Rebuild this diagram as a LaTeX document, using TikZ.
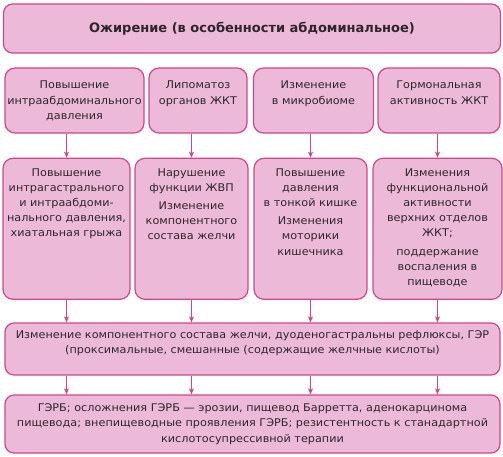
\documentclass[tikz,border=0pt]{standalone}
\usepackage{fontspec}
\setmainfont{DejaVu Sans}
\newfontfamily\bodyfont{DejaVu Sans}[FakeStretch=1.06]
\usetikzlibrary{positioning}
\usetikzlibrary{arrows.meta}
\definecolor{edge}{RGB}{208,70,136}
\definecolor{boxfill}{RGB}{236,186,216}
\definecolor{ink}{RGB}{45,38,45}

\begin{document}
\begin{tikzpicture}[x=1pt, y=-1pt,
		box/.style = {rectangle, rounded corners=10pt, draw=edge, fill=boxfill, line width=1.2pt, inner sep=0},
		txt/.style = {align=center, inner sep=0, text=ink, font=\bodyfont\fontsize{10.6}{15.2}\selectfont},
		r/.style = {-{Stealth[length=6pt, width=5pt, inset=1.5pt]}, draw=edge, line width=1.1pt}
		]
		\useasboundingbox (0,0) rectangle (503,456);

		%Nodes
		\node[box, minimum width=497, minimum height=49, rounded corners=9pt, font=\fontsize{13}{15}\bfseries, text=ink]
			(obes)	at	(252, 28.5)	{Ожирение (в особенности абдоминальное)};

		\node[box, minimum width=139, minimum height=65]	(pressA)	at	(74.5, 100.5)	{};
		\node[box, minimum width=98, minimum height=65]		(lipoA)		at	(198, 100.5)	{};
		\node[box, minimum width=120, minimum height=65]	(microA)	at	(313.5, 100.5)	{};
		\node[box, minimum width=122, minimum height=65]	(hormA)		at	(439, 100.5)	{};

		\node[txt, below=13.5pt of pressA.north]	{Повышение\\интраабдоминального\\давления};
		\node[txt, below=13.5pt of lipoA.north]	{Липоматоз\\органов ЖКТ};
		\node[txt, below=13.5pt of microA.north]	{Изменение\\в микробиоме};
		\node[txt, below=13.5pt of hormA.north]	{Гормональная\\активность ЖКТ};

		\node[box, minimum width=127, minimum height=141]	(pressB)	at	(66.5, 228.8)	{};
		\node[box, minimum width=113, minimum height=141]	(lipoB)		at	(191.5, 228.8)	{};
		\node[box, minimum width=113, minimum height=141]	(microB)	at	(310.5, 228.8)	{};
		\node[box, minimum width=129, minimum height=141]	(hormB)		at	(437.5, 228.8)	{};

		\node[txt, below=10.5pt of pressB.north]	{Повышение\\интрагастрального\\и интраабдоми-\\нального давления,\\хиатальная грыжа};
		\node[txt, below=10.5pt of lipoB.north]	{Нарушение\\функции ЖВП\\[3pt]Изменение\\компонентного\\состава желчи};
		\node[txt, below=10.5pt of microB.north]	{Повышение\\давления\\в тонкой кишке\\[3pt]Изменения\\моторики\\кишечника};
		\node[txt, below=10.5pt of hormB.north]	{Изменения\\функциональной\\активности\\верхних отделов\\ЖКТ;\\[3pt]поддержание\\воспаления в\\пищеводе};

		\node[box, minimum width=495, minimum height=52, rounded corners=9pt]	(reflux)	at	(252.5, 349)	{};
		\node[txt, below=8pt of reflux.north]	{Изменение компонентного состава желчи, дуоденогастральны рефлюксы, ГЭР\\(проксимальные, смешанные (содержащие желчные кислоты)};

		\node[box, minimum width=495, minimum height=58, rounded corners=9pt, txt]	(gerd)	at	(252.5, 424)
			{ГЭРБ; осложнения ГЭРБ — эрозии, пищевод Барретта, аденокарцинома\\пищевода; внепищеводные проявления ГЭРБ; резистентность к станадартной\\кислотосупрессивной терапии};

		%Lines
		\draw[r]	(pressB.north |- pressA.south)	to	(pressB.north);
		\draw[r]	(lipoB.north |- lipoA.south)	to	(lipoB.north);
		\draw[r]	(microB.north |- microA.south)	to	(microB.north);
		\draw[r]	(hormB.north |- hormA.south)	to	(hormB.north);
		\draw[r]	(pressB.south)	to	(pressB.south |- reflux.north);
		\draw[r]	(lipoB.south)	to	(lipoB.south |- reflux.north);
		\draw[r]	(microB.south)	to	(microB.south |- reflux.north);
		\draw[r]	(hormB.south)	to	(hormB.south |- reflux.north);
		\draw[r]	(pressB.south |- reflux.south)	to	(pressB.south |- gerd.north);
		\draw[r]	(lipoB.south |- reflux.south)	to	(lipoB.south |- gerd.north);
		\draw[r]	(microB.south |- reflux.south)	to	(microB.south |- gerd.north);
		\draw[r]	(hormB.south |- reflux.south)	to	(hormB.south |- gerd.north);
	\end{tikzpicture}
\end{document}
